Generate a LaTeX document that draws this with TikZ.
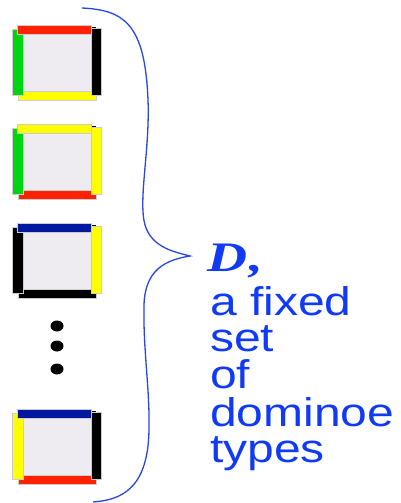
\documentclass[tikz,border=0pt]{standalone}
\usepackage{fontspec}
\setmainfont{Liberation Sans}
\newfontfamily\serifD{Liberation Serif}
\usepackage{xcolor}
\usepackage{tikz}

\definecolor{tilegray}{RGB}{238,236,240}
\definecolor{dred}{RGB}{255,34,0}
\definecolor{dgreen}{RGB}{0,210,20}
\definecolor{dyellow}{RGB}{255,255,0}
\definecolor{dblue}{RGB}{0,24,160}
\definecolor{textblue}{RGB}{16,58,245}
\definecolor{braceblue}{RGB}{40,70,225}

\tikzset{
    bar/.style={draw=gray!40, line width=0.5pt},
    label line/.style={font=\fontsize{40}{40}\selectfont, text=textblue, anchor=base west, inner sep=0pt, xscale=1.2},
}

% #1 top y, #2 top, #3 left, #4 right, #5 bottom
\newcommand{\dominotile}[5]{%
    \fill[black] (91,#1+2) rectangle (96,#1+4);
    \fill[tilegray] (18,#1+4) rectangle (96,#1+70);
    \draw[bar, fill=#5] (18,#1+66) rectangle (96,#1+75);
    \draw[bar, fill=#3] (12,#1+4) rectangle (23,#1+70);
    \draw[bar, fill=#4] (91,#1+3) rectangle (101,#1+70);
    \draw[bar, fill=#2] (17,#1) rectangle (91,#1+9);
}

\begin{document}
\begin{tikzpicture}[x=1pt, y=-1pt]
    \useasboundingbox (0,0) rectangle (400,503);
    % the tiles
    \dominotile{25}{dred}{dgreen}{black}{dyellow}
    \dominotile{124}{dyellow}{dgreen}{dyellow}{dred}
    \dominotile{223}{dblue}{black}{dyellow}{black}
    \dominotile{409}{dblue}{dyellow}{black}{dred}
    % dots
    \fill (57,326) ellipse (6.5 and 5.5);
    \fill (57,346) ellipse (6.5 and 5.5);
    \fill (57,369) ellipse (6.5 and 5.5);
    % brace
    \draw[braceblue, line width=1.3pt] (82,8)
        .. controls (125,10) and (145,25) .. (148,100)
        .. controls (150,150) and (138,200) .. (145,225)
        .. controls (152,248) and (175,252) .. (190,256)
        .. controls (165,260) and (145,270) .. (144,305)
        .. controls (143,350) and (150,390) .. (149,430)
        .. controls (148,490) and (120,500) .. (93,502);
    % label
    \node[label line, font=\fontsize{42}{42}\selectfont, xscale=1.1] (setname) at (207,271) {\serifD\bfseries\itshape D\kern2pt,};
    \node[label line] (line1) at (210,315) {a fixed};
    \node[label line] (line2) at (210,351) {set};
    \node[label line] (line3) at (210,388) {of};
    \node[label line] (line4) at (210,426) {dominoe};
    \node[label line] (line5) at (210,462) {types};
\end{tikzpicture}
\end{document}
